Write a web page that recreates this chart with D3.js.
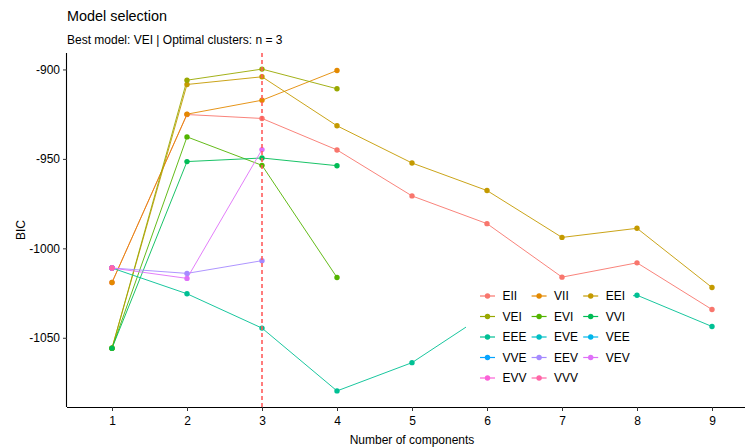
<!DOCTYPE html>
<html>
<head>
<meta charset="utf-8">
<script src="https://cdn.jsdelivr.net/npm/d3@7"></script>
<style>
  html, body { margin: 0; padding: 0; background: #fff; }
  svg text { font-family: "Liberation Sans", Arial, sans-serif; }
</style>
</head>
<body>
<svg id="chart" width="745" height="448"></svg>
<script>
// Number of mixture components (x axis, discrete)
const components = [1, 2, 3, 4, 5, 6, 7, 8, 9];

// Covariance model names, in legend order
const models = ["EII", "VII", "EEI", "VEI", "EVI", "VVI", "EEE", "EVE",
                "VEE", "VVE", "EEV", "VEV", "EVV", "VVV"];

// BIC per model for 1..9 components (null = not estimated)
const bicEII = [-1019.1, -925.2, -927.4, -945.0, -970.7, -986.2, -1016.1, -1008.1, -1034.2];
const bicVII = [-1019.1, -925.0, -917.2, -900.6, null, null, null, null, null];
const bicEEI = [-1055.8, -908.4, -904.1, -931.5, -952.3, -967.7, -993.9, -988.8, -1021.9];
const bicVEI = [-1055.8, -906.0, -899.8, -910.8, null, null, null, null, null];
const bicEVI = [-1055.8, -937.7, -953.6, -1016.3, null, null, null, null, null];
const bicVVI = [-1055.8, -951.5, -949.5, -953.8, null, null, null, null, null];
const bicEEE = [-1011.0, -1025.4, -1044.6, -1079.7, -1063.9, -1036.3, -1032.0, -1026.2, -1043.7];
const bicEVE = [-1011.0, null, null, null, null, null, null, null, null];
const bicVEE = [-1011.0, null, null, null, null, null, null, null, null];
const bicVVE = [-1011.0, null, null, null, null, null, null, null, null];
const bicEEV = [-1011.0, -1014.0, -1006.9, null, null, null, null, null, null];
const bicVEV = [-1011.0, -1016.8, -944.8, null, null, null, null, null, null];
const bicEVV = [-1011.0, null, null, null, null, null, null, null, null];
const bicVVV = [-1011.0, null, null, null, null, null, null, null, null];

const yTicks = [-900, -950, -1000, -1050];
const bestK = 3;
const titleText = "Model selection";
const subtitleText = "Best model: VEI | Optimal clusters: n = 3";
const xTitle = "Number of components";
const yTitle = "BIC";

const bicByModel = [bicEII, bicVII, bicEEI, bicVEI, bicEVI, bicVVI, bicEEE,
                    bicEVE, bicVEE, bicVVE, bicEEV, bicVEV, bicEVV, bicVVV];

// Polar-LUV (HCL) to sRGB hex, as used by the default discrete hue palette
function hclLuv(h, c, l) {
  const Xn = 95.047, Yn = 100.0, Zn = 108.883;
  const hr = h * Math.PI / 180;
  const u = c * Math.cos(hr), v = c * Math.sin(hr);
  const Y = l > 8 ? Yn * Math.pow((l + 16) / 116, 3) : Yn * l / 903.3;
  const den = Xn + 15 * Yn + 3 * Zn;
  const un = 4 * Xn / den, vn = 9 * Yn / den;
  const up = u / (13 * l) + un, vp = v / (13 * l) + vn;
  const X = Y * 9 * up / (4 * vp);
  const Z = Y * (12 - 3 * up - 20 * vp) / (4 * vp);
  const x = X / 100, y = Y / 100, z = Z / 100;
  const lin = [
     3.240479 * x - 1.537150 * y - 0.498535 * z,
    -0.969256 * x + 1.875992 * y + 0.041556 * z,
     0.055648 * x - 0.204043 * y + 1.057311 * z
  ];
  const gam = t => t <= 0.0031308 ? 12.92 * t : 1.055 * Math.pow(t, 1 / 2.4) - 0.055;
  const ch = lin.map(t => Math.round(255 * Math.min(1, Math.max(0, gam(t)))));
  return d3.rgb(ch[0], ch[1], ch[2]).formatHex();
}
const hueStart = 15, hueEnd = 375;
const modelColors = models.map((m, i) =>
  hclLuv((hueStart + (hueEnd - hueStart) * i / models.length) % 360, 100, 65));

const series = models.map((m, i) => ({
  model: m,
  color: modelColors[i],
  values: components.map((k, j) => ({ k, v: bicByModel[i][j] }))
                    .filter(d => d.v !== null)
}));

const svg = d3.select("#chart");

// Panel geometry
const panel = { left: 67, right: 757, top: 53, bottom: 407 };

// Discrete x axis: levels 1..9 with 0.6 padding on each side
const x = d3.scaleLinear()
  .domain([components[0] - 0.6, components[components.length - 1] + 0.6])
  .range([panel.left, panel.right]);

const allVals = series.flatMap(s => s.values.map(d => d.v));
const [vMin, vMax] = d3.extent(allVals);
const pad = (vMax - vMin) * 0.05;
const y = d3.scaleLinear()
  .domain([vMin - pad, vMax + pad])
  .range([panel.bottom, panel.top]);

// Titles
svg.append("text").attr("x", 67).attr("y", 21)
  .attr("font-size", 14.4).attr("fill", "#000").text(titleText);
svg.append("text").attr("x", 67).attr("y", 44)
  .attr("font-size", 12).attr("fill", "#000").text(subtitleText);

// Axes
const xAxis = d3.axisBottom(x).tickValues(components).tickSize(4).tickPadding(5)
  .tickFormat(d => String(d));
const gx = svg.append("g").attr("transform", `translate(0,${panel.bottom})`).call(xAxis);
gx.select(".domain").attr("stroke", "#000").attr("stroke-width", 1.1)
  .attr("d", `M${panel.left},0.5H${panel.right}`);
gx.selectAll(".tick line").attr("stroke", "#333");
gx.selectAll(".tick text").attr("font-size", 12).attr("fill", "#000")
  .attr("font-family", "Liberation Sans, Arial, sans-serif");

const yAxis = d3.axisLeft(y).tickValues(yTicks).tickSize(4).tickPadding(3)
  .tickFormat(d => String(d));
const gy = svg.append("g").attr("transform", `translate(${panel.left},0)`).call(yAxis);
gy.select(".domain").attr("stroke", "#000").attr("stroke-width", 1.1)
  .attr("d", `M-0.5,${panel.top}V${panel.bottom}`);
gy.selectAll(".tick line").attr("stroke", "#333");
gy.selectAll(".tick text").attr("font-size", 12).attr("fill", "#000")
  .attr("font-family", "Liberation Sans, Arial, sans-serif");

// Axis titles
svg.append("text")
  .attr("x", (panel.left + panel.right) / 2).attr("y", 444)
  .attr("text-anchor", "middle").attr("font-size", 12).attr("fill", "#000")
  .text(xTitle);
svg.append("text")
  .attr("transform", `translate(25,${(panel.top + panel.bottom) / 2}) rotate(-90)`)
  .attr("text-anchor", "middle").attr("font-size", 12).attr("fill", "#000")
  .text(yTitle);

// Lines then points
const line = d3.line().x(d => x(d.k)).y(d => y(d.v));
const plot = svg.append("g");
plot.selectAll("path.series")
  .data(series).join("path")
  .attr("class", "series")
  .attr("fill", "none")
  .attr("stroke", d => d.color)
  .attr("stroke-width", 1)
  .attr("stroke-opacity", 0.9)
  .attr("d", d => line(d.values));

series.forEach(s => {
  plot.selectAll(null).data(s.values).join("circle")
    .attr("cx", d => x(d.k)).attr("cy", d => y(d.v))
    .attr("r", 2.7).attr("fill", s.color);
});

// Optimal number of clusters
svg.append("line")
  .attr("x1", x(bestK)).attr("x2", x(bestK))
  .attr("y1", panel.top).attr("y2", panel.bottom)
  .attr("stroke", "#ff5c5c").attr("stroke-width", 1.6)
  .attr("stroke-dasharray", "4,3");

// Legend (inside the panel, white background)
const legend = svg.append("g").attr("transform", "translate(466,284)");
legend.append("rect").attr("x", 0).attr("y", 0)
  .attr("width", 167).attr("height", 108).attr("fill", "#fff");
const colW = 51.6, rowH = 20.5;
series.forEach((s, i) => {
  const col = i % 3, row = Math.floor(i / 3);
  const g = legend.append("g")
    .attr("transform", `translate(${14 + col * colW},${12 + row * rowH})`);
  g.append("line").attr("x1", 0).attr("x2", 15).attr("y1", 0).attr("y2", 0)
    .attr("stroke", s.color).attr("stroke-width", 1.2);
  g.append("circle").attr("cx", 7.5).attr("cy", 0).attr("r", 2.7).attr("fill", s.color);
  g.append("text").attr("x", 22.5).attr("y", 4.3)
    .attr("font-size", 12).attr("fill", "#000").text(s.model);
});
</script>
</body>
</html>
